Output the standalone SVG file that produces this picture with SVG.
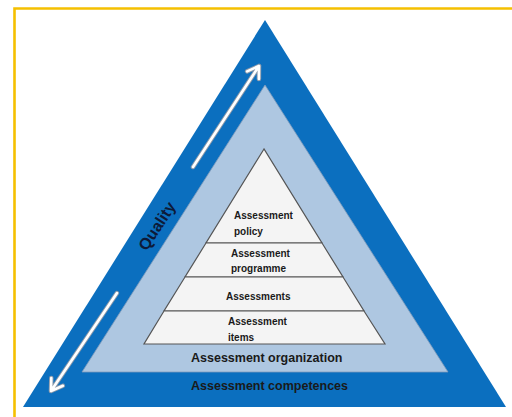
<svg xmlns="http://www.w3.org/2000/svg" width="512" height="417" viewBox="0 0 512 417">
<style>
.lbl{font-family:"Liberation Sans",Arial,sans-serif;font-weight:bold;fill:#1a1a1a}
.small{font-size:10px}
.big{font-size:12.5px}
.layer{fill:#f4f4f4;stroke:#555;stroke-width:1.2}
.ashadow{fill:none;stroke:#8c9aab;stroke-width:4.5;stroke-linecap:round;stroke-linejoin:round}
.aline{fill:none;stroke:#fff;stroke-width:2.6;stroke-linecap:round;stroke-linejoin:round}
</style>
<rect width="512" height="417" fill="#fff"/>
<path d="M14.5,417 V8.5 H512" fill="none" stroke="#f5c000" stroke-width="2.6"/>
<g id="competences">
<polygon points="265,20 23,407 506,407" fill="#0b6fbf"/>
<text class="lbl big" x="191" y="390">Assessment competences</text>
</g>
<g id="organization">
<polygon points="265,85 82,372 448,372" fill="#aec7e1" stroke="#7e9bbb" stroke-width="0.8"/>
<text class="lbl big" x="191" y="362">Assessment organization</text>
</g>
<g id="policy">
<polygon class="layer" points="264,149 206,243 322,243"/>
<text class="lbl small" x="234" y="219">Assessment</text>
<text class="lbl small" x="234" y="235">policy</text>
</g>
<g id="programme">
<polygon class="layer" points="206,243 322,243 343,277 185,277"/>
<text class="lbl small" x="231" y="257">Assessment</text>
<text class="lbl small" x="231" y="272">programme</text>
</g>
<g id="assessments">
<polygon class="layer" points="185,277 343,277 364,311 164,311"/>
<text class="lbl small" x="226" y="300">Assessments</text>
</g>
<g id="items">
<polygon class="layer" points="164,311 364,311 385,344 144,344"/>
<text class="lbl small" x="228" y="325">Assessment</text>
<text class="lbl small" x="228" y="341">items</text>
</g>
<g id="quality">
<text class="lbl" x="157" y="226" font-size="16" text-anchor="middle" dominant-baseline="central" fill="#0d1a38" style="fill:#0d1a38" transform="rotate(-57 157 226)">Quality</text>
</g>
<g id="connectors">
<path class="ashadow" d="M193,167 L259,66 M247.1,71.4 L259,66 L258.9,79"/>
<path class="aline" d="M193,167 L259,66 M247.1,71.4 L259,66 L258.9,79"/>
<path class="ashadow" d="M117,293 L51,391 M51.3,378 L51,391 L62.9,385.8"/>
<path class="aline" d="M117,293 L51,391 M51.3,378 L51,391 L62.9,385.8"/>
</g>
</svg>
